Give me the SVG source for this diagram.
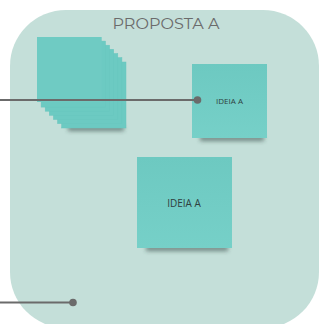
<svg xmlns="http://www.w3.org/2000/svg" width="320" height="324" viewBox="0 0 320 324">
<defs>
<style>
.note{fill:#6fcbc3;}
.stack{fill:#6ccac2;stroke:#69c6be;stroke-width:0.5;}
.lbl{font-family:"Open Sans","Liberation Sans",sans-serif;fill:#2f3f3e;text-anchor:middle;}
.conn{stroke:#6b6b6b;stroke-width:2;fill:none;}
.dot{fill:#6b6b6b;}
.shadow{fill:#2a3a38;opacity:0.55;filter:url(#blur);}
</style>
<filter id="blur" x="-20%" y="-100%" width="140%" height="300%">
<feGaussianBlur stdDeviation="2"/>
</filter>
<linearGradient id="g" x1="0" y1="0" x2="0" y2="1">
<stop offset="0" stop-color="#6dc9c1"/>
<stop offset="1" stop-color="#76d0c8"/>
</linearGradient>
</defs>
<rect width="320" height="324" fill="#ffffff"/>
<g id="panel">
<rect x="10" y="10" width="309" height="318" rx="56" fill="#c4dfd9"/>
<text x="166" y="29" font-family="Montserrat,'Open Sans','Liberation Sans',sans-serif" font-size="14" fill="#6b6b6b" text-anchor="middle" textLength="107" lengthAdjust="spacingAndGlyphs">PROPOSTA A</text>
</g>
<g id="stack">
<rect class="shadow" x="68" y="126" width="56" height="5"/>
<rect class="stack" x="61.6" y="62" width="64.4" height="66"/>
<rect class="stack" x="57.5" y="57.6" width="64.4" height="66"/>
<rect class="stack" x="53.4" y="53.5" width="64.4" height="66"/>
<rect class="stack" x="49.3" y="49.3" width="64.4" height="66"/>
<rect class="stack" x="45.2" y="45.2" width="64.4" height="66"/>
<rect class="stack" x="41.1" y="41.1" width="64.4" height="66"/>
<rect class="note" x="37" y="37" width="64.7" height="65"/>
</g>
<g id="note1">
<rect class="shadow" x="200" y="136" width="64" height="5"/>
<rect x="192" y="64" width="75" height="74" fill="url(#g)"/>
<text class="lbl" x="229.5" y="104" font-size="8">IDEIA A</text>
</g>
<g id="note2">
<rect class="shadow" x="146" y="246" width="82" height="5"/>
<rect x="137" y="157" width="95" height="91" fill="url(#g)"/>
<text class="lbl" x="184" y="207" font-size="10">IDEIA A</text>
</g>
<g id="connectors">
<line class="conn" x1="0" y1="100" x2="197" y2="100"/>
<circle class="dot" cx="197.5" cy="100" r="3.8"/>
<line class="conn" x1="0" y1="302.5" x2="73" y2="302.5"/>
<circle class="dot" cx="73" cy="302.5" r="3.8"/>
</g>
</svg>
